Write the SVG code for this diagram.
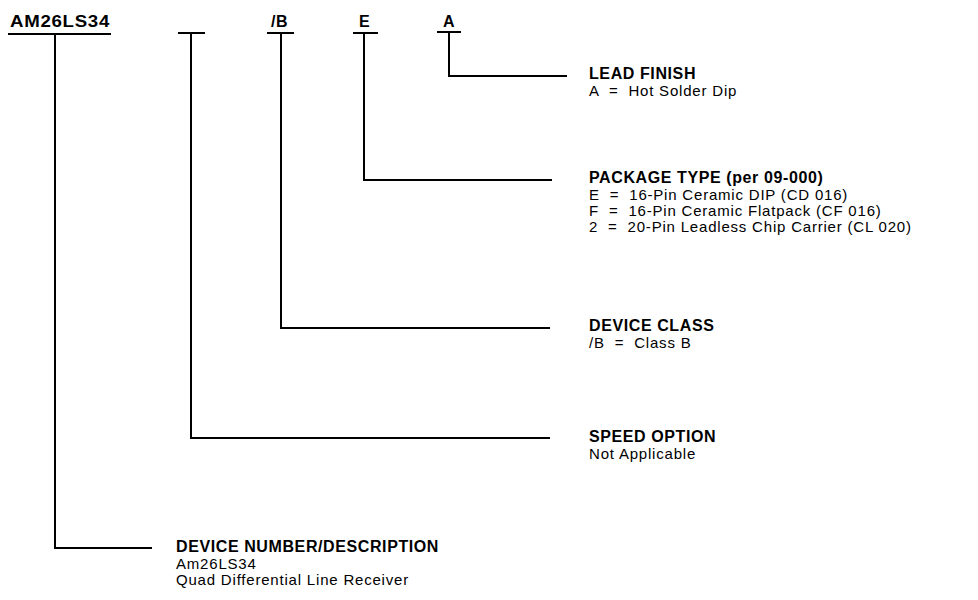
<svg xmlns="http://www.w3.org/2000/svg" width="978" height="600" viewBox="0 0 978 600">
<style>
.b{font-family:"Liberation Sans",Arial,sans-serif;font-weight:bold;font-size:16px;letter-spacing:0.6px;fill:#000}
.r{font-family:"Liberation Sans",Arial,sans-serif;font-size:15px;letter-spacing:0.8px;fill:#000}
.ln{stroke:#000;stroke-width:2;fill:none}
</style>
<rect width="978" height="600" fill="#fff"/>
<g id="code">
<text class="b" x="10" y="27" textLength="100" lengthAdjust="spacingAndGlyphs">AM26LS34</text>
<text class="b" x="271" y="27">/B</text>
<text class="b" x="359" y="27">E</text>
<text class="b" x="443" y="27">A</text>
</g>
<g id="connectors">
<path class="ln" d="M8 34H111M55 34V548H152"/>
<path class="ln" d="M178 33H205M191 33V438H550"/>
<path class="ln" d="M267 33H294M281 33V328H550"/>
<path class="ln" d="M353 33H378M364 33V180H552"/>
<path class="ln" d="M437 32H461M449 32V76H567"/>
</g>
<g id="lead-finish">
<text class="b" x="589" y="79">LEAD FINISH</text>
<text class="r" x="589" y="96" xml:space="preserve">A  =  Hot Solder Dip</text>
</g>
<g id="package-type">
<text class="b" x="589" y="183">PACKAGE TYPE (per 09-000)</text>
<text class="r" x="589" y="200" xml:space="preserve">E  =  16-Pin Ceramic DIP (CD 016)</text>
<text class="r" x="589" y="216" xml:space="preserve">F  =  16-Pin Ceramic Flatpack (CF 016)</text>
<text class="r" x="589" y="232" xml:space="preserve">2  =  20-Pin Leadless Chip Carrier (CL 020)</text>
</g>
<g id="device-class">
<text class="b" x="589" y="331">DEVICE CLASS</text>
<text class="r" x="589" y="348" xml:space="preserve">/B  =  Class B</text>
</g>
<g id="speed-option">
<text class="b" x="589" y="442">SPEED OPTION</text>
<text class="r" x="589" y="459">Not Applicable</text>
</g>
<g id="device-number">
<text class="b" x="176" y="552">DEVICE NUMBER/DESCRIPTION</text>
<text class="r" x="176" y="569">Am26LS34</text>
<text class="r" x="176" y="585">Quad Differential Line Receiver</text>
</g>
</svg>
